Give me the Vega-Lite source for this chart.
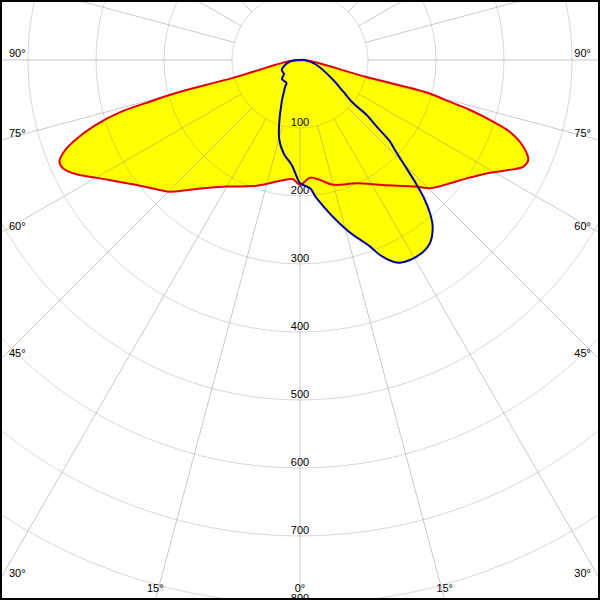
{
  "$schema": "https://vega.github.io/schema/vega-lite/v6.json",
  "width": 596,
  "height": 596,
  "padding": 2,
  "autosize": {"type": "none"},
  "background": "black",
  "config": {
    "view": {"fill": "white", "stroke": null},
    "mark": {"color": "black"},
    "text": {"font": "Liberation Sans", "fontSize": 11, "color": "black"}
  },
  "datasets": {
    "curves": [
      {"plane": "C0-C180", "i": 1, "angle": -90, "cd": 0},
      {"plane": "C0-C180", "i": 2, "angle": -84, "cd": 15},
      {"plane": "C0-C180", "i": 3, "angle": -75.1, "cd": 101},
      {"plane": "C0-C180", "i": 4, "angle": -75.1, "cd": 190},
      {"plane": "C0-C180", "i": 5, "angle": -74.5, "cd": 227},
      {"plane": "C0-C180", "i": 6, "angle": -73.8, "cd": 276},
      {"plane": "C0-C180", "i": 7, "angle": -72.3, "cd": 317},
      {"plane": "C0-C180", "i": 8, "angle": -70.3, "cd": 353},
      {"plane": "C0-C180", "i": 9, "angle": -68.8, "cd": 372},
      {"plane": "C0-C180", "i": 10, "angle": -67.1, "cd": 384},
      {"plane": "C0-C180", "i": 11, "angle": -65.4, "cd": 383},
      {"plane": "C0-C180", "i": 12, "angle": -62.9, "cd": 369},
      {"plane": "C0-C180", "i": 13, "angle": -59.4, "cd": 342},
      {"plane": "C0-C180", "i": 14, "angle": -53.1, "cd": 305},
      {"plane": "C0-C180", "i": 15, "angle": -47.1, "cd": 281},
      {"plane": "C0-C180", "i": 16, "angle": -44.6, "cd": 272},
      {"plane": "C0-C180", "i": 17, "angle": -37.0, "cd": 236},
      {"plane": "C0-C180", "i": 18, "angle": -30.0, "cd": 215},
      {"plane": "C0-C180", "i": 19, "angle": -19.0, "cd": 195.5},
      {"plane": "C0-C180", "i": 20, "angle": -10.8, "cd": 182},
      {"plane": "C0-C180", "i": 21, "angle": -4.8, "cd": 175.6},
      {"plane": "C0-C180", "i": 22, "angle": -3.2, "cd": 175.7},
      {"plane": "C0-C180", "i": 23, "angle": 0, "cd": 183.5},
      {"plane": "C0-C180", "i": 24, "angle": 4.9, "cd": 173.7},
      {"plane": "C0-C180", "i": 25, "angle": 9.5, "cd": 179},
      {"plane": "C0-C180", "i": 26, "angle": 14.9, "cd": 190},
      {"plane": "C0-C180", "i": 27, "angle": 24.7, "cd": 199.6},
      {"plane": "C0-C180", "i": 28, "angle": 33.7, "cd": 221},
      {"plane": "C0-C180", "i": 29, "angle": 42.6, "cd": 253},
      {"plane": "C0-C180", "i": 30, "angle": 45.4, "cd": 268.6},
      {"plane": "C0-C180", "i": 31, "angle": 50.6, "cd": 285.6},
      {"plane": "C0-C180", "i": 32, "angle": 54.6, "cd": 300.6},
      {"plane": "C0-C180", "i": 33, "angle": 58.7, "cd": 321},
      {"plane": "C0-C180", "i": 34, "angle": 62.4, "cd": 348.6},
      {"plane": "C0-C180", "i": 35, "angle": 64.5, "cd": 364},
      {"plane": "C0-C180", "i": 36, "angle": 66.3, "cd": 366.5},
      {"plane": "C0-C180", "i": 37, "angle": 68.8, "cd": 352},
      {"plane": "C0-C180", "i": 38, "angle": 71.1, "cd": 326},
      {"plane": "C0-C180", "i": 39, "angle": 72.3, "cd": 298},
      {"plane": "C0-C180", "i": 40, "angle": 73.6, "cd": 260.6},
      {"plane": "C0-C180", "i": 41, "angle": 74.6, "cd": 222},
      {"plane": "C0-C180", "i": 42, "angle": 75.6, "cd": 195},
      {"plane": "C0-C180", "i": 43, "angle": 75.6, "cd": 101},
      {"plane": "C0-C180", "i": 44, "angle": 84, "cd": 15},
      {"plane": "C0-C180", "i": 45, "angle": 90, "cd": 0},
      {"plane": "C90-C270", "i": 1, "angle": -90, "cd": 0},
      {"plane": "C90-C270", "i": 2, "angle": -81.5, "cd": 14.9},
      {"plane": "C90-C270", "i": 3, "angle": -67.3, "cd": 26.6},
      {"plane": "C90-C270", "i": 4, "angle": -61.3, "cd": 30.7},
      {"plane": "C90-C270", "i": 5, "angle": -48.8, "cd": 31.3},
      {"plane": "C90-C270", "i": 6, "angle": -43.5, "cd": 38.5},
      {"plane": "C90-C270", "i": 7, "angle": -30.4, "cd": 39.2},
      {"plane": "C90-C270", "i": 8, "angle": -29.1, "cd": 45.4},
      {"plane": "C90-C270", "i": 9, "angle": -20.3, "cd": 84.7},
      {"plane": "C90-C270", "i": 10, "angle": -14.5, "cd": 121.5},
      {"plane": "C90-C270", "i": 11, "angle": -9.7, "cd": 140.2},
      {"plane": "C90-C270", "i": 12, "angle": -4.5, "cd": 154.9},
      {"plane": "C90-C270", "i": 13, "angle": -1.6, "cd": 171.7},
      {"plane": "C90-C270", "i": 14, "angle": 0, "cd": 181.3},
      {"plane": "C90-C270", "i": 15, "angle": 4.5, "cd": 189.3},
      {"plane": "C90-C270", "i": 16, "angle": 6.9, "cd": 204.9},
      {"plane": "C90-C270", "i": 17, "angle": 15.4, "cd": 259.3},
      {"plane": "C90-C270", "i": 18, "angle": 20.6, "cd": 293.2},
      {"plane": "C90-C270", "i": 19, "angle": 22.3, "cd": 310},
      {"plane": "C90-C270", "i": 20, "angle": 24.8, "cd": 326.8},
      {"plane": "C90-C270", "i": 21, "angle": 26.3, "cd": 332.4},
      {"plane": "C90-C270", "i": 22, "angle": 28.8, "cd": 335.7},
      {"plane": "C90-C270", "i": 23, "angle": 32.75, "cd": 335.2},
      {"plane": "C90-C270", "i": 24, "angle": 35.3, "cd": 330.5},
      {"plane": "C90-C270", "i": 25, "angle": 38.5, "cd": 313.4},
      {"plane": "C90-C270", "i": 26, "angle": 40.3, "cd": 295.6},
      {"plane": "C90-C270", "i": 27, "angle": 42.0, "cd": 272},
      {"plane": "C90-C270", "i": 28, "angle": 43.4, "cd": 245},
      {"plane": "C90-C270", "i": 29, "angle": 45, "cd": 214.8},
      {"plane": "C90-C270", "i": 30, "angle": 46.5, "cd": 192.5},
      {"plane": "C90-C270", "i": 31, "angle": 47.8, "cd": 178.8},
      {"plane": "C90-C270", "i": 32, "angle": 49, "cd": 149.5},
      {"plane": "C90-C270", "i": 33, "angle": 50.5, "cd": 127.1},
      {"plane": "C90-C270", "i": 34, "angle": 50.9, "cd": 101},
      {"plane": "C90-C270", "i": 35, "angle": 53.8, "cd": 78.9},
      {"plane": "C90-C270", "i": 36, "angle": 59, "cd": 57.1},
      {"plane": "C90-C270", "i": 37, "angle": 73.3, "cd": 25.6},
      {"plane": "C90-C270", "i": 38, "angle": 90, "cd": 7.4},
      {"plane": "C90-C270", "i": 39, "angle": 90, "cd": 0}
    ],
    "rings": [
      {"r": 100}, {"r": 200}, {"r": 300}, {"r": 400},
      {"r": 500}, {"r": 600}, {"r": 700}, {"r": 800}
    ],
    "spokes": [
      {"a": 0}, {"a": 15}, {"a": 30}, {"a": 45}, {"a": 60}, {"a": 75},
      {"a": 90}, {"a": 105}, {"a": 120}, {"a": 135}, {"a": 150}, {"a": 165},
      {"a": 180}, {"a": 195}, {"a": 210}, {"a": 225}, {"a": 240}, {"a": 255},
      {"a": 270}, {"a": 285}, {"a": 300}, {"a": 315}, {"a": 330}, {"a": 345}
    ],
    "angleLabels": [
      {"label": "90°", "a": -90, "side": "left"},
      {"label": "75°", "a": -75, "side": "left"},
      {"label": "60°", "a": -60, "side": "left"},
      {"label": "45°", "a": -45, "side": "left"},
      {"label": "30°", "a": -30, "side": "left"},
      {"label": "90°", "a": 90, "side": "right"},
      {"label": "75°", "a": 75, "side": "right"},
      {"label": "60°", "a": 60, "side": "right"},
      {"label": "45°", "a": 45, "side": "right"},
      {"label": "30°", "a": 30, "side": "right"},
      {"label": "15°", "a": -15, "side": "bottom"},
      {"label": "0°", "a": 0, "side": "bottom"},
      {"label": "15°", "a": 15, "side": "bottom"}
    ]
  },
  "layer": [
    {
      "data": {"name": "curves"},
      "transform": [
        {"calculate": "datum.cd*sin(datum.angle*PI/180)", "as": "x"},
        {"calculate": "-datum.cd*cos(datum.angle*PI/180)", "as": "y"}
      ],
      "mark": {"type": "line", "interpolate": "catmull-rom", "fill": "#ffff00", "strokeWidth": 0, "strokeOpacity": 0, "clip": true},
      "encoding": {
        "x": {"field": "x", "type": "quantitative", "scale": {"domain": [-438.235, 438.235], "nice": false, "zero": false}, "axis": null},
        "y": {"field": "y", "type": "quantitative", "scale": {"domain": [-791.176, 85.294], "nice": false, "zero": false}, "axis": null},
        "detail": {"field": "plane"},
        "order": {"field": "i", "type": "quantitative"}
      }
    },
    {
      "data": {"name": "rings"},
      "mark": {"type": "point", "shape": "circle", "filled": false, "stroke": "#888888", "strokeWidth": 1, "strokeOpacity": 0.45, "clip": true},
      "encoding": {
        "x": {"datum": 0, "type": "quantitative"},
        "y": {"datum": 0, "type": "quantitative"},
        "size": {"field": "r", "type": "quantitative", "scale": {"type": "pow", "exponent": 2, "domain": [0, 800], "range": [0, 1183744]}, "legend": null}
      }
    },
    {
      "data": {"name": "spokes"},
      "transform": [
        {"calculate": "100*sin(datum.a*PI/180)", "as": "x1"},
        {"calculate": "-100*cos(datum.a*PI/180)", "as": "y1"},
        {"calculate": "1500*sin(datum.a*PI/180)", "as": "x2"},
        {"calculate": "-1500*cos(datum.a*PI/180)", "as": "y2"}
      ],
      "mark": {"type": "rule", "stroke": "#888888", "strokeWidth": 1, "strokeOpacity": 0.45, "clip": true},
      "encoding": {
        "x": {"field": "x1", "type": "quantitative"},
        "y": {"field": "y1", "type": "quantitative"},
        "x2": {"field": "x2"},
        "y2": {"field": "y2"}
      }
    },
    {
      "data": {"name": "rings"},
      "transform": [{"calculate": "-datum.r", "as": "y"}],
      "mark": {"type": "text", "color": "black", "fill": "black", "fillOpacity": 1, "font": "Liberation Sans", "fontSize": 11, "align": "center", "baseline": "alphabetic", "dy": -2, "clip": true},
      "encoding": {
        "x": {"datum": 0, "type": "quantitative"},
        "y": {"field": "y", "type": "quantitative"},
        "text": {"field": "r", "type": "nominal"}
      }
    },
    {
      "data": {"name": "curves"},
      "transform": [
        {"calculate": "datum.cd*sin(datum.angle*PI/180)", "as": "x"},
        {"calculate": "-datum.cd*cos(datum.angle*PI/180)", "as": "y"}
      ],
      "mark": {"type": "line", "interpolate": "catmull-rom", "strokeWidth": 2, "clip": true},
      "encoding": {
        "x": {"field": "x", "type": "quantitative"},
        "y": {"field": "y", "type": "quantitative"},
        "color": {"field": "plane", "type": "nominal", "scale": {"domain": ["C0-C180", "C90-C270"], "range": ["#e00000", "#0000a0"]}, "legend": null},
        "order": {"field": "i", "type": "quantitative"}
      }
    },
    {
      "data": {"name": "angleLabels"},
      "transform": [
        {"filter": "datum.side == 'left'"},
        {"calculate": "441.18/abs(sin(datum.a*PI/180))", "as": "t"},
        {"calculate": "datum.t*sin(datum.a*PI/180)", "as": "x"},
        {"calculate": "-datum.t*cos(datum.a*PI/180)", "as": "y"}
      ],
      "mark": {"type": "text", "color": "black", "fill": "black", "font": "Liberation Sans", "fontSize": 11, "align": "left", "baseline": "alphabetic", "dx": 9, "dy": -3},
      "encoding": {
        "x": {"field": "x", "type": "quantitative"},
        "y": {"field": "y", "type": "quantitative"},
        "text": {"field": "label"}
      }
    },
    {
      "data": {"name": "angleLabels"},
      "transform": [
        {"filter": "datum.side == 'right'"},
        {"calculate": "441.18/abs(sin(datum.a*PI/180))", "as": "t"},
        {"calculate": "datum.t*sin(datum.a*PI/180)", "as": "x"},
        {"calculate": "-datum.t*cos(datum.a*PI/180)", "as": "y"}
      ],
      "mark": {"type": "text", "color": "black", "fill": "black", "font": "Liberation Sans", "fontSize": 11, "align": "right", "baseline": "alphabetic", "dx": -9, "dy": -3},
      "encoding": {
        "x": {"field": "x", "type": "quantitative"},
        "y": {"field": "y", "type": "quantitative"},
        "text": {"field": "label"}
      }
    },
    {
      "data": {"name": "angleLabels"},
      "transform": [
        {"filter": "datum.side == 'bottom'"},
        {"calculate": "794.12/cos(datum.a*PI/180)", "as": "t"},
        {"calculate": "datum.t*sin(datum.a*PI/180)", "as": "x"},
        {"calculate": "-datum.t*cos(datum.a*PI/180)", "as": "y"}
      ],
      "mark": {"type": "text", "color": "black", "fill": "black", "font": "Liberation Sans", "fontSize": 11, "align": "center", "baseline": "alphabetic", "dy": -8},
      "encoding": {
        "x": {"field": "x", "type": "quantitative"},
        "y": {"field": "y", "type": "quantitative"},
        "text": {"field": "label"}
      }
    }
  ]
}
